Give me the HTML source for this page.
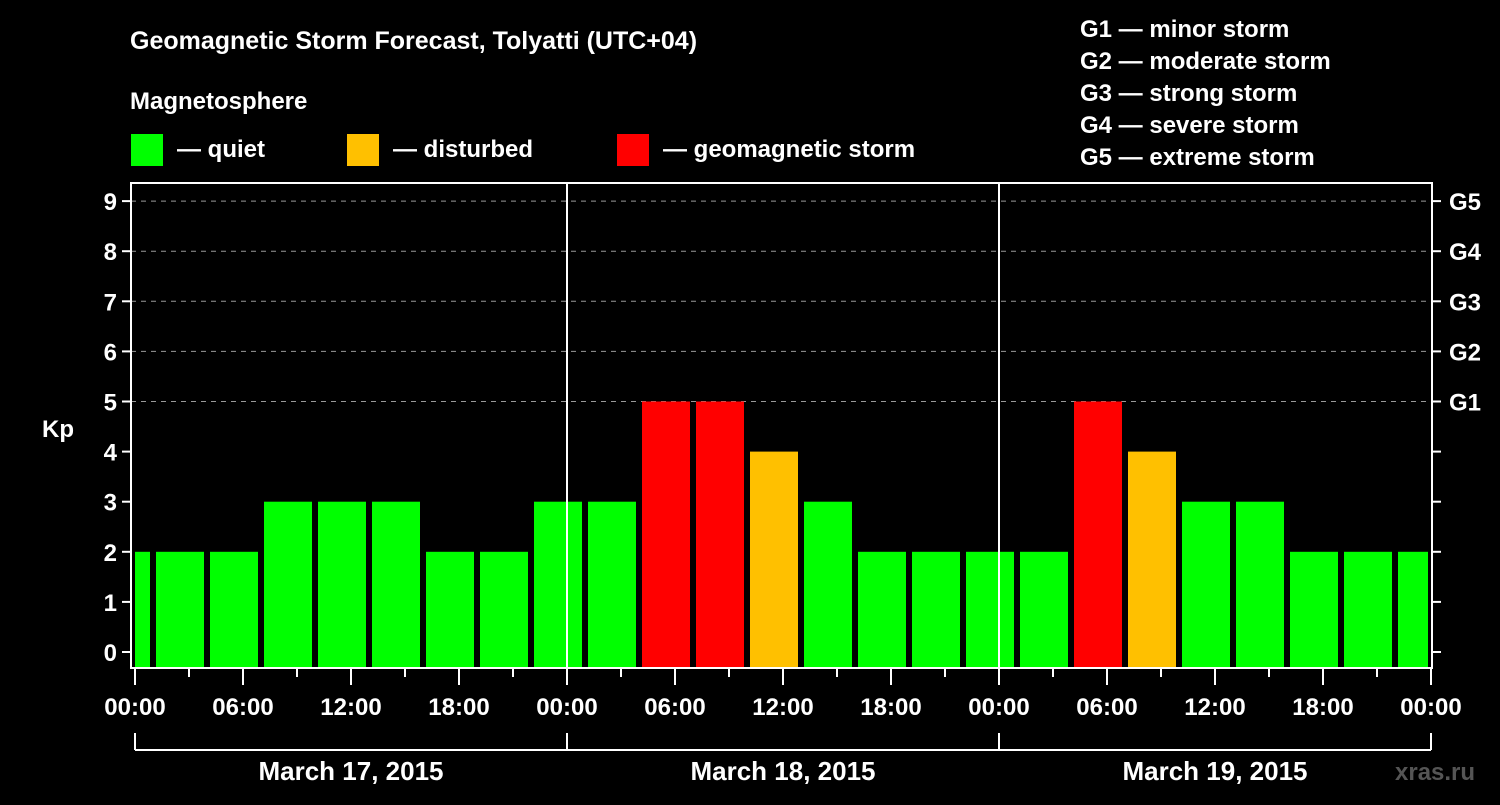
<!DOCTYPE html>
<html><head><meta charset="utf-8"><style>
body{margin:0;background:#000;width:1500px;height:800px;overflow:hidden}
svg text{font-family:"Liberation Sans",Arial,sans-serif;font-weight:bold;fill:#fff}
</style></head><body>
<svg id="c" width="1500" height="800">
<text x="130" y="49" font-size="25">Geomagnetic Storm Forecast, Tolyatti (UTC+04)</text>
<text x="130" y="109" font-size="24">Magnetosphere</text>
<g><rect x="131" y="134" width="32" height="32" fill="#00ff00"/><text x="177" y="157" font-size="24">— quiet</text></g>
<g><rect x="347" y="134" width="32" height="32" fill="#ffc000"/><text x="393" y="157" font-size="24">— disturbed</text></g>
<g><rect x="617" y="134" width="32" height="32" fill="#ff0000"/><text x="663" y="157" font-size="24">— geomagnetic storm</text></g>
<g font-size="24">
<text x="1080" y="37">G1 — minor storm</text>
<text x="1080" y="69">G2 — moderate storm</text>
<text x="1080" y="101">G3 — strong storm</text>
<text x="1080" y="133">G4 — severe storm</text>
<text x="1080" y="165">G5 — extreme storm</text>
</g>
<text x="42" y="437" font-size="24">Kp</text>
<text x="1395" y="780" font-size="24" fill="#555" style="fill:#555">xras.ru</text>
<g id="plot"></g>
</svg>
<script>
const values=[2,2,2,3,3,3,2,2,3,3,5,5,4,3,2,2,2,2,5,4,3,3,2,2,2];
const kpTicks=[0,1,2,3,4,5,6,7,8,9];
const gLabels=["G1","G2","G3","G4","G5"];
const hourLabels=["00:00","06:00","12:00","18:00"];
const dayLabels=["March 17, 2015","March 18, 2015","March 19, 2015"];
const startHour=-2;
const NS="http://www.w3.org/2000/svg";
const X0=135,PX_H=18,Y0=652,PX_K=50.1;
const L=131,R=1432,T=183,B=668;
const xs=h=>X0+h*PX_H, ys=k=>Y0-k*PX_K;
const g=document.getElementById('plot');
function mk(t,a,p){const e=document.createElementNS(NS,t);for(const k in a)e.setAttribute(k,a[k]);(p||g).appendChild(e);return e;}
const color=v=>v>=5?"#ff0000":v>=4?"#ffc000":"#00ff00";
// grid
kpTicks.forEach(k=>{
 if(k>=5){const l=mk('line',{x1:L,x2:R,y1:ys(k),y2:ys(k),stroke:'#999','stroke-dasharray':'5,5','stroke-width':1});
 
 }
 const t1=mk('line',{x1:L-9,x2:L,y1:ys(k),y2:ys(k),stroke:'#fff','stroke-width':2});
 
 
 const t2=mk('line',{x1:R,x2:R+9,y1:ys(k),y2:ys(k),stroke:'#fff','stroke-width':2});
 
 
 const tx=mk('text',{x:L-14,y:ys(k)+9,'font-size':24,'text-anchor':'end'});tx.textContent=k;
 
 
});
gLabels.forEach((s,i)=>{const tx=mk('text',{x:R+17,y:ys(5+i)+9,'font-size':24});tx.textContent=s;
 
 });
// bars
values.forEach((v,i)=>{
 let a=xs(startHour+3*i)+3,b=xs(startHour+3*i+3)-3;
 a=Math.max(a,L+4);b=Math.min(b,R-4);
 const r=mk('rect',{x:a,y:ys(v),width:b-a,height:B-ys(v),fill:color(v)});
 
 
});
// day separators
for(let d=1;d<dayLabels.length;d++){const l=mk('line',{x1:xs(24*d),x2:xs(24*d),y1:T,y2:B,stroke:'#fff','stroke-width':2});
 
 }
// frame
const f=mk('rect',{x:L,y:T,width:R-L,height:B-T,fill:'none',stroke:'#fff','stroke-width':2});


// x ticks
const nd=dayLabels.length;
for(let h=0;h<=24*nd;h+=3){
 const major=h%6===0;
 const l=mk('line',{x1:xs(h),x2:xs(h),y1:B,y2:B+(major?17:9),stroke:'#fff','stroke-width':2});
 
 
 if(major){const tx=mk('text',{x:xs(h),y:715,'font-size':24,'text-anchor':'middle'});tx.textContent=hourLabels[(h/6)%4];
 
 }
}
// day brackets
for(let d=0;d<=nd;d++){const l=mk('line',{x1:xs(24*d),x2:xs(24*d),y1:733,y2:750,stroke:'#fff','stroke-width':2});
 
 }
const hl=mk('line',{x1:xs(0),x2:xs(24*nd),y1:750,y2:750,stroke:'#fff','stroke-width':2});


dayLabels.forEach((s,d)=>{const tx=mk('text',{x:xs(24*d+12),y:780,'font-size':26,'text-anchor':'middle'});tx.textContent=s;
 
 });
</script>
</body></html>
